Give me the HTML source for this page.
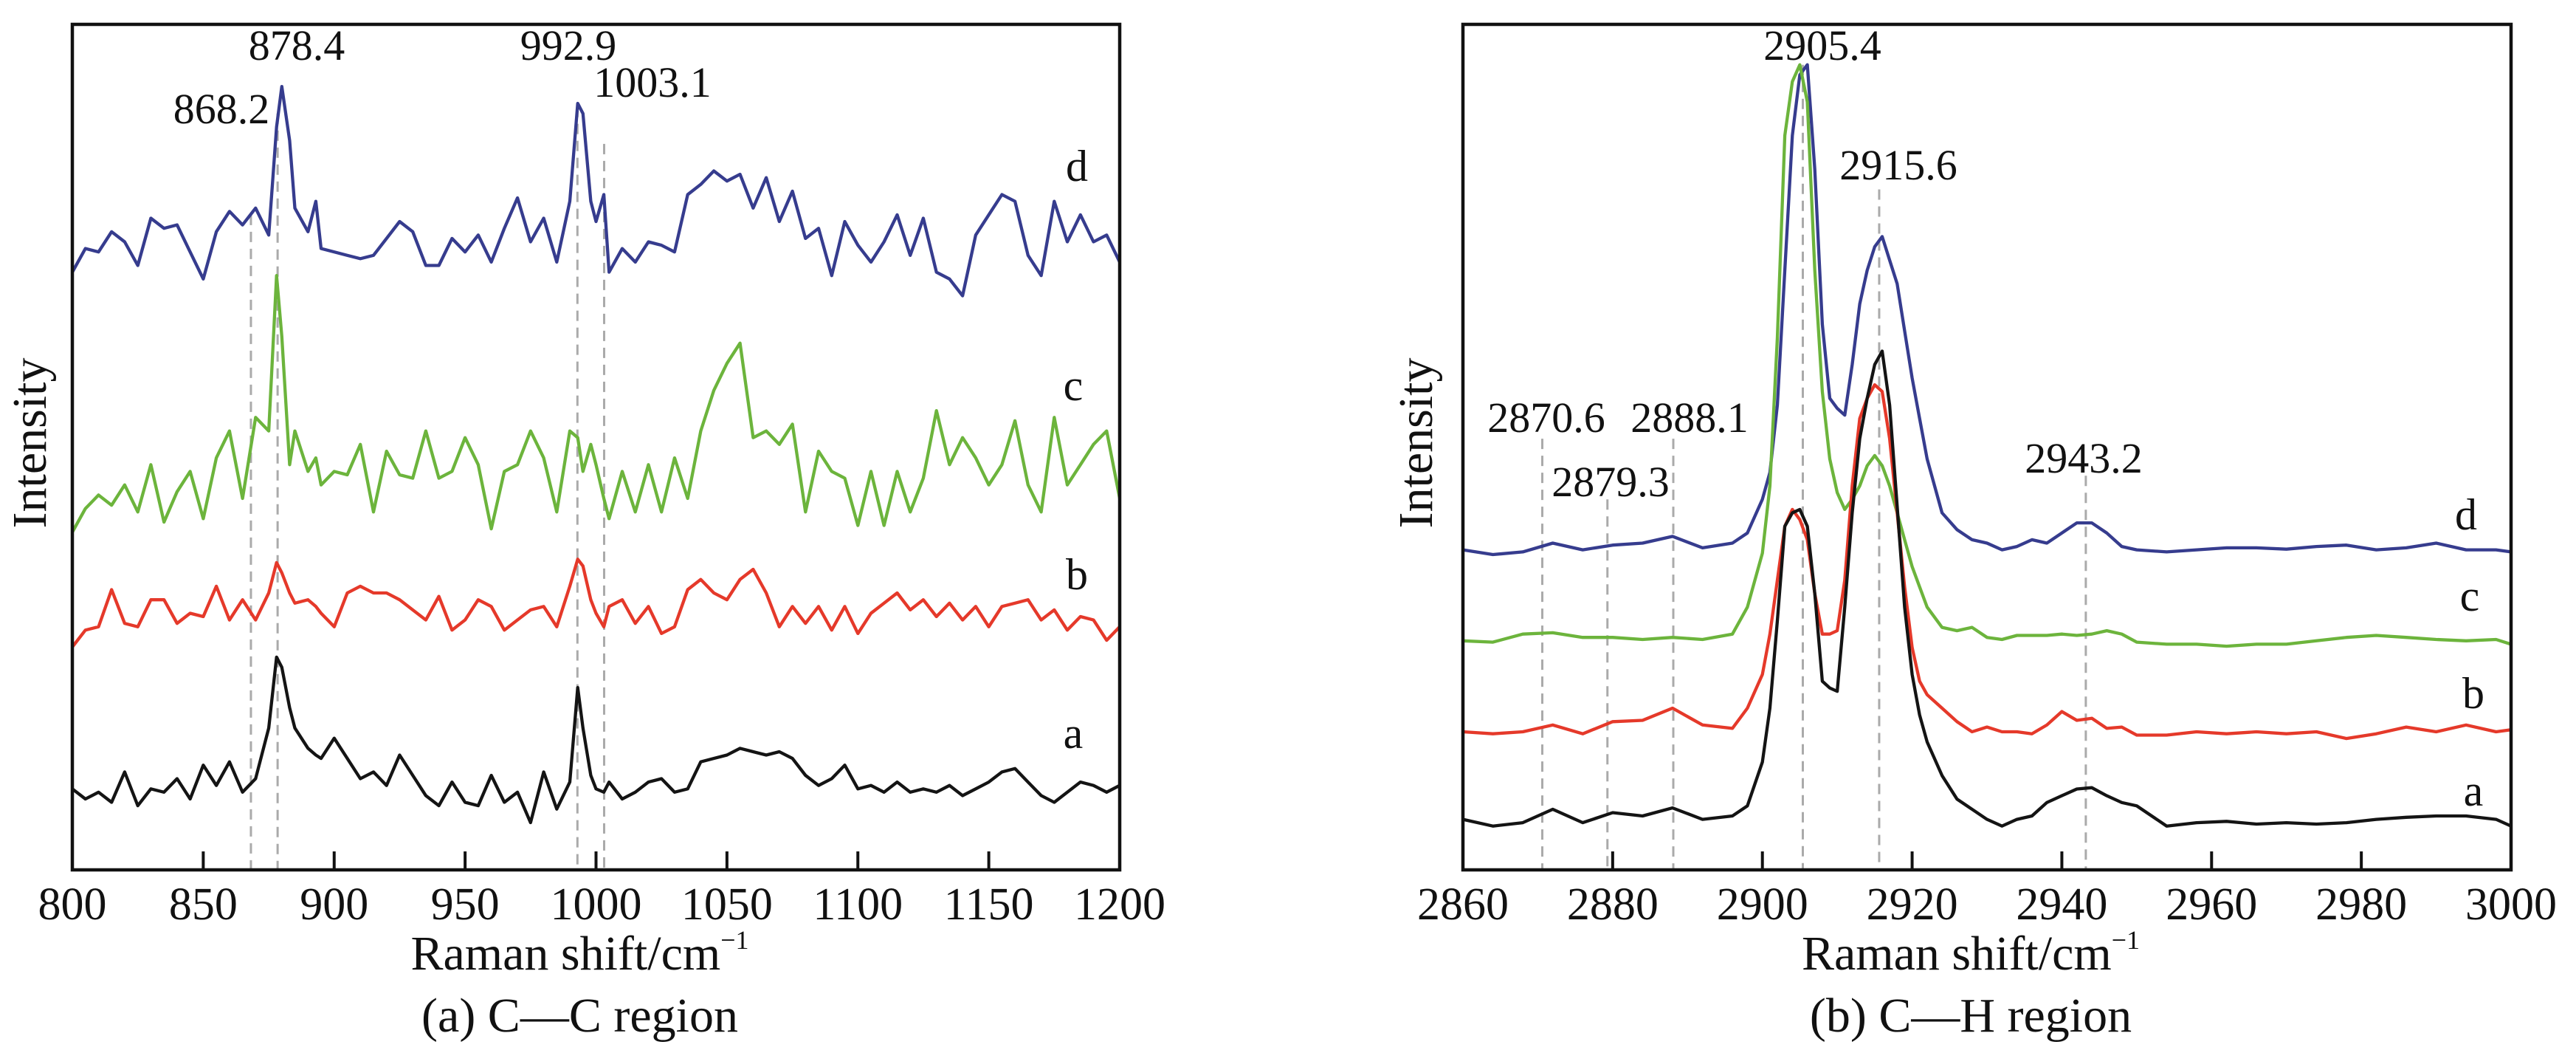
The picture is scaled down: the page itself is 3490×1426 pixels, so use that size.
<!DOCTYPE html>
<html><head><meta charset="utf-8"><style>
html,body{margin:0;padding:0;background:#fff;}
svg{display:block;}
text{font-family:"Liberation Serif",serif;fill:#111;}
</style></head><body>
<svg id="fig" width="3490" height="1426" viewBox="0 0 3490 1426" xmlns="http://www.w3.org/2000/svg"></svg>
<script>
// ---------- Panel (a) C-C region data ----------
const ccX = [800,805,810,815,820,825,830,835,840,845,850,855,860,865,870,875,878,880,883,885,890,893,895,900,905,910,915,920,925,930,935,940,945,950,955,960,965,970,975,980,985,990,993,995,998,1000,1003,1005,1010,1015,1020,1025,1030,1035,1040,1045,1050,1055,1060,1065,1070,1075,1080,1085,1090,1095,1100,1105,1110,1115,1120,1125,1130,1135,1140,1145,1150,1155,1160,1165,1170,1175,1180,1185,1190,1195,1200];
const ccD = [885,920,915,945,930,895,965,950,955,915,875,945,975,955,980,940,1100,1160,1080,980,945,990,920,915,910,905,910,935,960,945,895,895,935,915,940,900,950,995,930,965,900,990,1135,1120,990,960,1000,885,920,900,930,925,915,1000,1015,1035,1020,1030,980,1025,960,1005,935,950,880,960,925,900,930,970,910,965,885,875,850,940,970,1000,990,910,880,990,930,970,930,940,900];
const ccC = [500,535,555,540,570,530,600,515,560,590,520,610,650,550,670,650,880,790,600,650,590,610,570,590,585,630,530,620,585,580,650,580,590,640,600,505,590,600,650,610,530,650,640,590,630,600,550,520,590,530,600,530,610,550,650,710,750,780,640,650,630,660,530,620,590,580,510,590,510,590,530,580,680,600,640,610,570,600,665,570,530,670,570,600,630,650,550];
const ccB = [330,355,360,415,365,360,400,400,365,380,375,420,370,400,370,410,455,440,410,395,400,390,380,360,410,420,410,410,400,385,370,405,355,370,400,390,355,370,385,390,360,420,460,450,400,380,360,390,400,365,390,350,360,415,430,410,400,430,445,410,360,390,365,390,355,390,350,380,395,410,385,400,375,395,370,390,360,390,395,400,370,385,355,375,370,340,360];
const ccA = [120,105,115,100,145,95,120,115,135,105,155,125,160,115,135,210,315,300,240,210,180,170,165,195,165,135,145,125,170,140,110,95,130,100,95,140,100,115,70,145,90,130,270,210,140,120,115,130,105,115,130,135,115,120,160,165,170,180,175,170,175,165,140,125,135,155,120,125,115,130,115,120,115,125,110,120,130,145,150,130,110,100,115,130,125,115,125];
const ccTicks = [800,850,900,950,1000,1050,1100,1150,1200];
const ccPeaks = [868.2,878.4,992.9,1003.1];
const ccPeakLabels = ["868.2","878.4","992.9","1003.1"];
const ccPeakLineTop = [970,1120,1130,1075];

// ---------- Panel (b) C-H region data ----------
const chX = [2860,2864,2868,2872,2876,2880,2884,2888,2892,2896,2898,2900,2901,2902,2903,2904,2905,2906,2907,2908,2909,2910,2911,2912,2913,2914,2915,2916,2917,2918,2919,2920,2921,2922,2924,2926,2928,2930,2932,2934,2936,2938,2940,2942,2944,2946,2948,2950,2954,2958,2962,2966,2970,2974,2978,2982,2986,2990,2994,2998,3000];
const chD = [475,468,472,485,475,482,485,495,478,485,500,550,590,690,890,1090,1180,1195,1040,810,700,685,675,750,840,890,925,940,905,870,800,730,670,610,530,505,490,485,475,480,490,485,500,515,515,500,480,475,472,475,478,478,476,480,482,475,478,485,475,475,472];
const chC = [340,338,350,352,345,345,342,345,342,350,390,470,570,790,1090,1170,1195,1140,890,710,610,560,535,550,570,600,615,600,570,530,490,450,420,390,360,355,360,345,342,348,348,348,350,348,350,355,350,338,335,335,332,335,335,340,345,348,345,342,340,342,335];
const chB = [205,202,205,215,202,220,222,240,215,210,240,290,350,430,510,535,520,490,410,350,350,355,430,570,670,700,720,710,640,530,420,330,280,260,240,220,205,212,205,205,202,215,235,222,225,210,212,200,200,205,202,205,202,205,195,202,212,205,215,205,208];
const chA = [75,65,70,90,70,85,80,92,75,80,95,160,240,370,510,530,535,510,410,280,270,265,390,530,640,700,750,770,690,540,390,290,230,190,140,105,90,75,65,75,80,100,110,120,122,110,100,95,65,70,72,68,70,68,70,75,78,80,80,75,65];
const chTicks = [2860,2880,2900,2920,2940,2960,2980,3000];
const chPeaks = [2870.6,2879.3,2888.1,2905.4,2915.6,2943.2];
const chPeakLabels = ["2870.6","2879.3","2888.1","2905.4","2915.6","2943.2"];
const chPeakLineTop = [640,550,640,1195,1010,585];

const NS = "http://www.w3.org/2000/svg";
const svg = document.getElementById('fig');
function mk(tag, attrs, parent){
  const e = document.createElementNS(NS, tag);
  for (const k in attrs) e.setAttribute(k, attrs[k]);
  (parent||svg).appendChild(e);
  return e;
}

function panel(cfg){
  const g = mk('g', {});
  
  
  const sx = v => cfg.x0 + (v - cfg.xmin) / (cfg.xmax - cfg.xmin) * (cfg.x1 - cfg.x0);
  const sy = v => cfg.y1 - v / cfg.ymax * (cfg.y1 - cfg.y0);

  cfg.peaks.forEach((p, i) => {
    const l = mk('line', {x1: sx(p), x2: sx(p), y1: sy(cfg.peakTop[i]), y2: cfg.y1, stroke: '#aaa', 'stroke-width': 3, 'stroke-dasharray': '14,9'}, g);
    
    
  });
  cfg.series.forEach(s => {
    const d = cfg.xs.map((x, i) => (i ? 'L' : 'M') + sx(x).toFixed(1) + ' ' + sy(s.vals[i]).toFixed(1)).join(' ');
    const p = mk('path', {d: d, fill: 'none', stroke: s.color, 'stroke-width': 4.3, 'stroke-linejoin': 'round'}, g);
    
    
  });
  const fr = mk('rect', {x: cfg.x0, y: cfg.y0, width: cfg.x1 - cfg.x0, height: cfg.y1 - cfg.y0, fill: 'none', stroke: '#111', 'stroke-width': 4.5}, g);
  
  
  cfg.ticks.forEach(t => {
    const x = sx(t);
    if (t !== cfg.xmin && t !== cfg.xmax) {
      const tl = mk('line', {x1: x, x2: x, y1: cfg.y1, y2: cfg.y1 - 25, stroke: '#111', 'stroke-width': 4}, g);
      
      
    }
    const tx = mk('text', {x: x, y: 1245, 'font-size': 62, 'text-anchor': 'middle'}, g);
    tx.textContent = String(t);
    
    
  });
  cfg.peakLabelPos.forEach((pos, i) => {
    const t = mk('text', {x: pos[0], y: pos[1], 'font-size': 58, 'text-anchor': 'middle'}, g);
    t.textContent = cfg.peakLabels[i];
    
    
  });
  cfg.letters.forEach(L => {
    const t = mk('text', {x: L[1], y: L[2], 'font-size': 60, 'text-anchor': 'middle'}, g);
    t.textContent = L[0];
    
    
  });
  const cx = (cfg.x0 + cfg.x1) / 2 - 22;
  const xt = mk('text', {x: cx, y: 1313, 'font-size': 66, 'text-anchor': 'middle'}, g);
  xt.innerHTML = 'Raman shift/cm<tspan dy="-28" font-size="36">−1</tspan>';
  
  
  const yt = mk('text', {x: 0, y: 0, 'font-size': 66, 'text-anchor': 'middle', transform: 'translate(' + cfg.ytX + ',600) rotate(-90)'}, g);
  yt.textContent = 'Intensity';
  
  
  const cap = mk('text', {x: cx, y: 1397, 'font-size': 66, 'text-anchor': 'middle'}, g);
  cap.textContent = cfg.caption;
  
  
}

panel({
  name: 'panel-a-cc-region', x0: 98, x1: 1517, y0: 33, y1: 1178,
  xmin: 800, xmax: 1200, ymax: 1252, xs: ccX,
  series: [{id:'d', vals: ccD, color:'#363c8e'}, {id:'c', vals: ccC, color:'#6cb43c'}, {id:'b', vals: ccB, color:'#e5392a'}, {id:'a', vals: ccA, color:'#141414'}],
  ticks: ccTicks, peaks: ccPeaks, peakTop: ccPeakLineTop, peakLabels: ccPeakLabels,
  peakLabelPos: [[300,167],[402,81],[770,81],[884,131]],
  letters: [['d',1459,245],['c',1454,542],['b',1459,798],['a',1454,1013]],
  ytX: 62, caption: '(a) C—C region'
});
panel({
  name: 'panel-b-ch-region', x0: 1982, x1: 3402, y0: 33, y1: 1178,
  xmin: 2860, xmax: 3000, ymax: 1255, xs: chX,
  series: [{id:'d', vals: chD, color:'#363c8e'}, {id:'c', vals: chC, color:'#6cb43c'}, {id:'b', vals: chB, color:'#e5392a'}, {id:'a', vals: chA, color:'#141414'}],
  ticks: chTicks, peaks: chPeaks, peakTop: chPeakLineTop, peakLabels: chPeakLabels,
  peakLabelPos: [[2095,585],[2182,672],[2289,585],[2469,81],[2572,243],[2823,640]],
  letters: [['d',3341,717],['c',3346,827],['b',3351,959],['a',3351,1091]],
  ytX: 1940, caption: '(b) C—H region'
});
</script>
</body></html>
